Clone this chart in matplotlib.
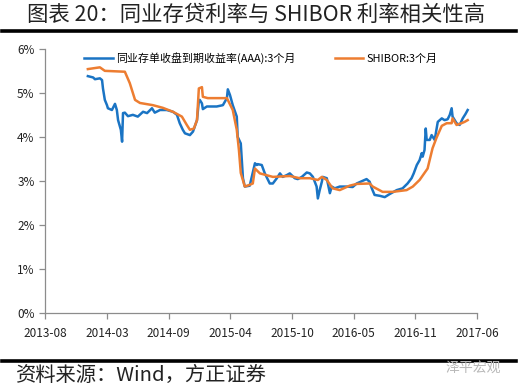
import pandas as pd
import matplotlib
matplotlib.use("Agg")
import matplotlib.pyplot as plt
from matplotlib.lines import Line2D

plt.rcParams['font.family'] = ['Noto Sans CJK SC', 'DejaVu Sans']

# 同业存单收盘到期收益率(AAA):3个月
ncd_dates = [
    "2014-01-01", "2014-01-18", "2014-01-24", "2014-02-09", "2014-02-16", "2014-02-19",
    "2014-02-25", "2014-03-04", "2014-03-07", "2014-03-20", "2014-03-30", "2014-04-05",
    "2014-04-09", "2014-04-18", "2014-04-22", "2014-04-25", "2014-05-01", "2014-05-11",
    "2014-05-27", "2014-06-12", "2014-06-29", "2014-07-12", "2014-07-28", "2014-08-06",
    "2014-08-23", "2014-09-14", "2014-10-04", "2014-10-17", "2014-10-26", "2014-11-05",
    "2014-11-12", "2014-11-28", "2014-12-08", "2014-12-21", "2014-12-27", "2014-12-30",
    "2015-01-06", "2015-01-09", "2015-01-22", "2015-02-23", "2015-03-15", "2015-03-28",
    "2015-03-31", "2015-04-07", "2015-04-16", "2015-04-29", "2015-05-02", "2015-05-12",
    "2015-05-19", "2015-05-25", "2015-06-10", "2015-06-27", "2015-07-03", "2015-07-06",
    "2015-07-19", "2015-07-29", "2015-08-14", "2015-08-24", "2015-09-06", "2015-09-16",
    "2015-09-25", "2015-10-08", "2015-10-18", "2015-11-03", "2015-11-13", "2015-11-26",
    "2015-12-12", "2015-12-22", "2016-01-01", "2016-01-13", "2016-01-17", "2016-01-23",
    "2016-01-30", "2016-02-02", "2016-02-15", "2016-02-25", "2016-03-02", "2016-03-12",
    "2016-03-28", "2016-04-20", "2016-05-09", "2016-05-22", "2016-06-23", "2016-07-03",
    "2016-07-10", "2016-07-19", "2016-08-05", "2016-08-21", "2016-09-06", "2016-09-29",
    "2016-10-18", "2016-11-03", "2016-11-16", "2016-11-23", "2016-12-03", "2016-12-12",
    "2016-12-19", "2016-12-22", "2016-12-28", "2017-01-01", "2017-01-04", "2017-01-14",
    "2017-01-20", "2017-01-30", "2017-02-09", "2017-02-22", "2017-03-03", "2017-03-13",
    "2017-03-20", "2017-03-26", "2017-03-29", "2017-04-11", "2017-04-21", "2017-05-01",
    "2017-05-10", "2017-05-17",
]
ncd_values = [
    5.39, 5.36, 5.32, 5.34, 5.30, 5.11,
    4.85, 4.73, 4.66, 4.62, 4.76, 4.62,
    4.39, 4.17, 3.90, 4.55, 4.56, 4.48,
    4.51, 4.47, 4.58, 4.55, 4.66, 4.56,
    4.62, 4.62, 4.58, 4.51, 4.32, 4.17,
    4.09, 4.05, 4.13, 4.39, 4.83, 4.85,
    4.77, 4.64, 4.70, 4.70, 4.73, 4.89,
    5.09, 4.96, 4.73, 4.47, 4.01, 3.86,
    3.07, 2.88, 2.90, 3.41, 3.37, 3.39,
    3.37, 3.18, 2.95, 2.95, 3.07, 3.18,
    3.10, 3.14, 3.18, 3.07, 3.05, 3.10,
    3.20, 3.18, 3.10, 2.88, 2.61, 2.80,
    2.99, 3.10, 3.07, 2.73, 2.88, 2.84,
    2.88, 2.88, 2.87, 2.95, 3.05, 2.99,
    2.84, 2.69, 2.67, 2.64, 2.71, 2.80,
    2.84, 2.95, 3.07, 3.18, 3.37, 3.48,
    3.64, 3.56, 3.71, 4.20, 3.94, 3.94,
    4.05, 3.94, 4.35, 4.43, 4.39, 4.41,
    4.51, 4.66, 4.47, 4.32, 4.28, 4.43,
    4.53, 4.62,
]

# SHIBOR:3个月
shibor_dates = [
    "2014-01-01", "2014-02-09", "2014-02-25", "2014-05-01", "2014-05-17", "2014-06-03",
    "2014-06-19", "2014-07-31", "2014-09-01", "2014-10-04", "2014-11-02", "2014-11-18",
    "2014-11-28", "2014-12-11", "2014-12-21", "2014-12-27", "2015-01-06", "2015-01-09",
    "2015-01-25", "2015-03-28", "2015-04-16", "2015-04-29", "2015-05-06", "2015-05-12",
    "2015-05-25", "2015-06-10", "2015-06-20", "2015-06-27", "2015-07-13", "2015-08-24",
    "2015-10-18", "2015-11-19", "2015-12-22", "2016-01-17", "2016-01-30", "2016-02-15",
    "2016-03-05", "2016-03-28", "2016-04-29", "2016-05-22", "2016-07-03", "2016-07-13",
    "2016-08-14", "2016-09-16", "2016-10-31", "2016-11-20", "2016-12-12", "2017-01-04",
    "2017-01-07", "2017-01-23", "2017-02-05", "2017-02-22", "2017-03-10", "2017-03-26",
    "2017-03-29", "2017-04-11", "2017-04-27", "2017-05-07", "2017-05-17",
]
shibor_values = [
    5.55, 5.59, 5.51, 5.49, 5.23, 4.85,
    4.78, 4.73, 4.67, 4.58, 4.47, 4.28,
    4.17, 4.20, 4.39, 5.11, 5.14, 4.92,
    4.89, 4.89, 4.62, 4.17, 3.71, 3.19,
    2.88, 2.92, 2.95, 3.29, 3.18, 3.10,
    3.12, 3.07, 3.07, 3.03, 3.10, 3.03,
    2.84, 2.80, 2.90, 2.94, 2.95, 2.88,
    2.76, 2.76, 2.80, 2.88, 3.03, 3.26,
    3.29, 3.75, 3.99, 4.26, 4.32, 4.32,
    4.43, 4.28, 4.32, 4.35, 4.39,
]

tick_labels = ["2013-08", "2014-03", "2014-09", "2015-04", "2015-10", "2016-05", "2016-11", "2017-06"]
tick_dates = ["2013-08-15", "2014-03-04", "2014-09-20", "2015-04-08", "2015-10-25",
              "2016-05-12", "2016-11-28", "2017-06-16"]

BLUE = "#1a74c4"
ORANGE = "#ed7d31"

fig = plt.figure(figsize=(5.21, 3.89), dpi=100)
ax = fig.add_axes([0.0864, 0.1946, 0.829, 0.6787])

ax.plot(pd.to_datetime(ncd_dates), ncd_values, color=BLUE, linewidth=1.8)
ax.plot(pd.to_datetime(shibor_dates), shibor_values, color=ORANGE, linewidth=1.8)

ax.set_ylim(0, 6)
ax.set_yticks(range(7))
ax.set_yticklabels([f"{i}%" for i in range(7)])
xt = pd.to_datetime(tick_dates)
ax.set_xlim(xt[0], xt[-1])
ax.set_xticks(xt)
ax.set_xticklabels(tick_labels)

for s in ["top", "right"]:
    ax.spines[s].set_visible(False)
for s in ["left", "bottom"]:
    ax.spines[s].set_color("#8c8c8c")
    ax.spines[s].set_linewidth(0.9)
ax.tick_params(axis="both", colors="#8c8c8c", labelcolor="#222222", labelsize=8.5,
               length=4, width=0.9, direction="out")
ax.tick_params(axis="x", pad=6)

handles = [Line2D([], [], color=BLUE, linewidth=1.8),
           Line2D([], [], color=ORANGE, linewidth=1.8)]
ax.legend(handles, ["同业存单收盘到期收益率(AAA):3个月", "SHIBOR:3个月"],
          loc="upper center", bbox_to_anchor=(0.5, 1.025), ncol=2, frameon=False,
          fontsize=7.9, handlelength=2.6, handletextpad=0.3, columnspacing=3.6)

# header and footer
fig.text(0.052, 0.962, "图表 20：同业存贷利率与 SHIBOR 利率相关性高", fontsize=15.4,
         ha="left", va="center", color="#222222")
fig.add_artist(Line2D([0.004, 0.99], [0.921, 0.921], color="black", linewidth=2.6))
fig.add_artist(Line2D([0.004, 0.99], [0.072, 0.072], color="black", linewidth=2.6))
fig.text(0.03, 0.034, "资料来源：Wind，方正证券", fontsize=14.6, style="italic",
         ha="left", va="center", color="#222222")
fig.text(0.855, 0.055, "泽平宏观", fontsize=10, color="#b8b8b8", ha="left", va="center")

fig.savefig("out.png", dpi=100)
plt.close(fig)
